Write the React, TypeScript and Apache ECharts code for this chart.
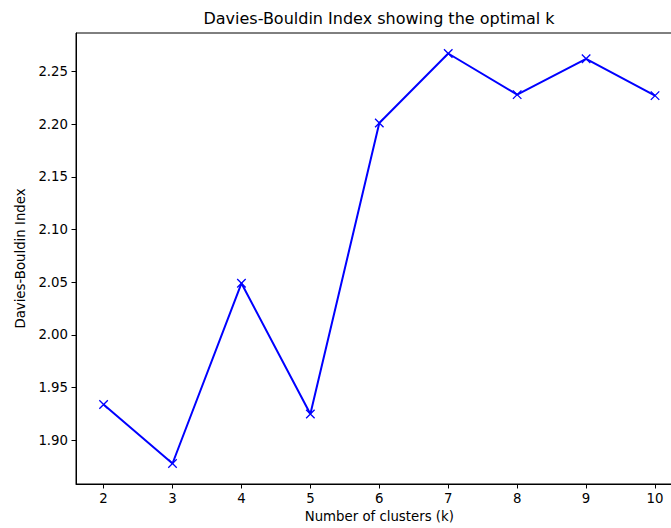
import React, { useEffect, useRef } from "react";
import * as echarts from "echarts";

const kValues = [2, 3, 4, 5, 6, 7, 8, 9, 10];
const dbIndex = [1.934, 1.878, 2.049, 1.925, 2.201, 2.267, 2.228, 2.262, 2.227];
const yTicks = [1.9, 1.95, 2.0, 2.05, 2.1, 2.15, 2.2, 2.25];
const xTicks = [2, 3, 4, 5, 6, 7, 8, 9, 10];

const FONT = "DejaVu Sans";

export default function App() {
  const ref = useRef<HTMLDivElement>(null);
  useEffect(() => {
    if (!ref.current) return;
    const chart = echarts.init(ref.current, null, { renderer: "svg" });
    const xPad = (10 - 2) * 0.05;
    const yMin = Math.min(...dbIndex);
    const yMax = Math.max(...dbIndex);
    const yPad = (yMax - yMin) * 0.05;
    chart.setOption({
      animation: false,
      backgroundColor: "#fff",
      title: {
        text: "Davies-Bouldin Index showing the optimal k",
        left: 379,
        textAlign: "center",
        top: 10,
        padding: 0,
        textStyle: { fontFamily: FONT, fontSize: 16, fontWeight: "normal", color: "#000" },
      },
      grid: {
        left: 76,
        top: 33,
        right: 700 - 682.6,
        bottom: 43,
        show: true,
        borderColor: "#000",
        borderWidth: 1,
        backgroundColor: "transparent",
      },
      xAxis: {
        type: "value",
        min: 2 - xPad,
        max: 10 + xPad,
        name: "Number of clusters (k)",
        nameLocation: "middle",
        nameGap: 26,
        nameTextStyle: { fontFamily: FONT, fontSize: 13.3, color: "#000" },
        axisLine: { show: true, lineStyle: { color: "#000", width: 1 } },
        axisTick: { show: true, length: 4.5, lineStyle: { color: "#000" }, customValues: xTicks },
        axisLabel: {
          fontFamily: FONT,
          fontSize: 13.3,
          color: "#000",
          margin: 8,
          customValues: xTicks,
          formatter: (v: number) => String(v),
        },
        splitLine: { show: false },
      },
      yAxis: {
        type: "value",
        min: yMin - yPad,
        max: yMax + yPad,
        name: "Davies-Bouldin Index",
        nameLocation: "middle",
        nameGap: 48,
        nameTextStyle: { fontFamily: FONT, fontSize: 13.3, color: "#000" },
        axisLine: { show: true, lineStyle: { color: "#000", width: 1 } },
        axisTick: { show: true, length: 4.5, lineStyle: { color: "#000" }, customValues: yTicks },
        axisLabel: {
          fontFamily: FONT,
          fontSize: 13.3,
          color: "#000",
          margin: 8,
          customValues: yTicks,
          formatter: (v: number) => v.toFixed(2),
        },
        splitLine: { show: false },
      },
      series: [
        {
          type: "line",
          data: kValues.map((k, i) => [k, dbIndex[i]]),
          lineStyle: { color: "#0000ff", width: 2 },
          symbol: "path://M0,0L10,10M10,0L0,10",
          symbolSize: 8.5,
          showSymbol: true,
          itemStyle: { color: "#0000ff", borderColor: "#0000ff", borderWidth: 1.3 },
          emphasis: { disabled: true },
        },
      ],
    });
    return () => chart.dispose();
  }, []);
  return (
    <div
      ref={ref}
      style={{ position: "fixed", left: 0, top: 0, width: 700, height: 528 }}
    />
  );
}
